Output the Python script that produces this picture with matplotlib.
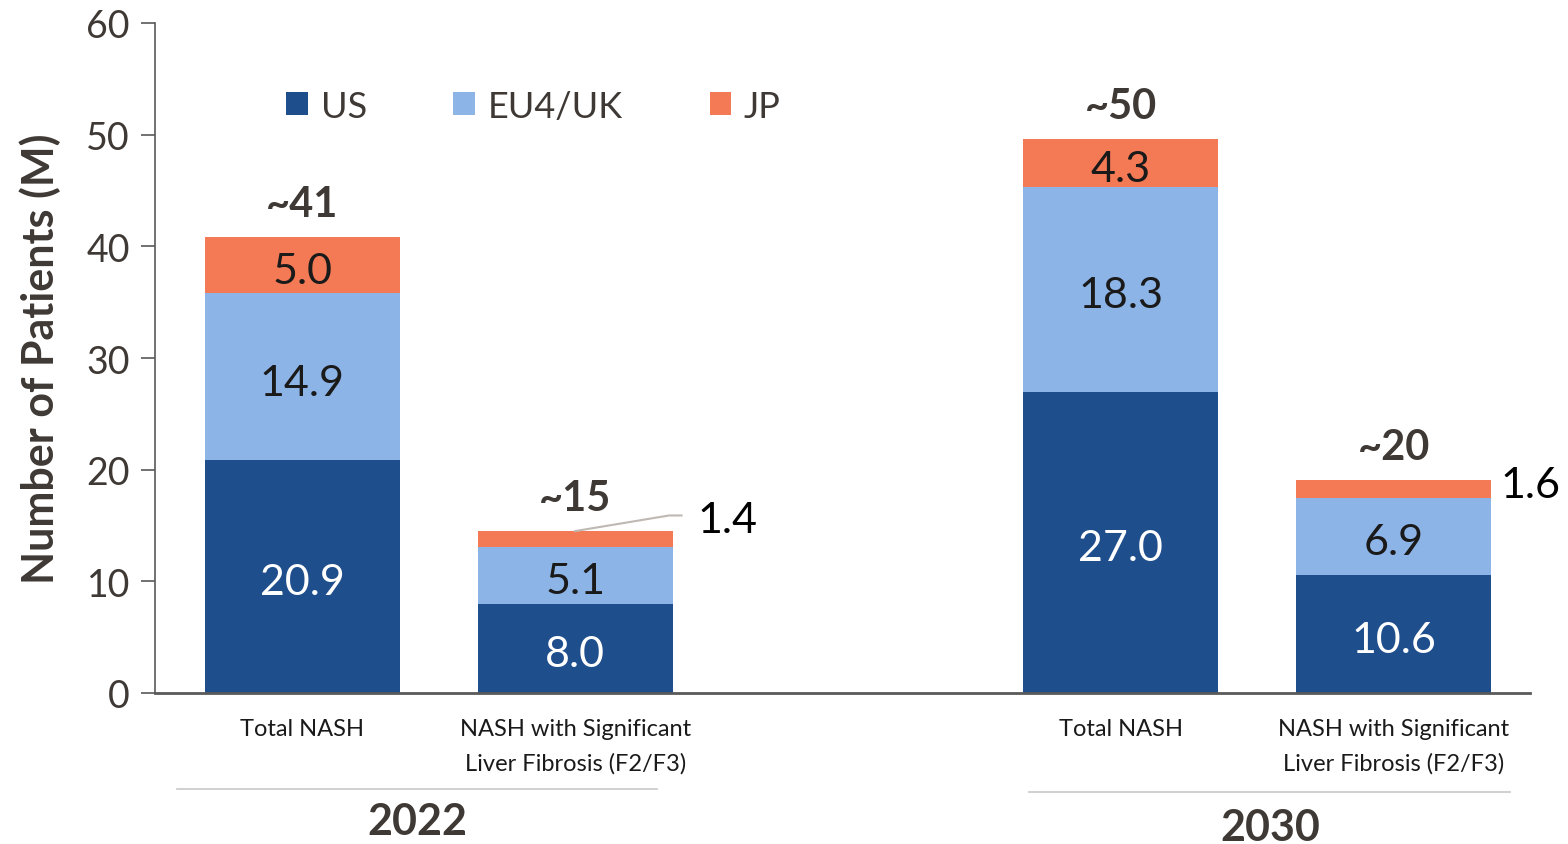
import numpy as np
import matplotlib.pyplot as plt

plt.rcParams['font.family'] = ['Lato', 'DejaVu Sans']

# patients (millions) by region for each bar
categories = ['Total NASH', 'NASH with Significant\nLiver Fibrosis (F2/F3)',
              'Total NASH', 'NASH with Significant\nLiver Fibrosis (F2/F3)']
positions = [0, 1, 3, 4]
us = [20.9, 8.0, 27.0, 10.6]
eu = [14.9, 5.1, 18.3, 6.9]
jp = [5.0, 1.4, 4.3, 1.6]
totals = ['~41', '~15', '~50', '~20']
years = ['2022', '2030']

c_us = '#1F4E8C'
c_eu = '#8DB4E6'
c_jp = '#F47A56'
dark = '#3F3935'

fig = plt.figure(figsize=(15.68, 8.45), dpi=100)
ax = fig.add_axes([155 / 1568, 1 - 694 / 845, (1530 - 155) / 1568, 670 / 845])

width = 0.714
us_a, eu_a, jp_a = np.array(us), np.array(eu), np.array(jp)
ax.bar(positions, us_a, width, color=c_us, label='US')
ax.bar(positions, eu_a, width, bottom=us_a, color=c_eu, label='EU4/UK')
ax.bar(positions, jp_a, width, bottom=us_a + eu_a, color=c_jp, label='JP')

# segment labels, nudged a little below the segment middle
dy = -0.55
for i, x in enumerate(positions):
    ax.text(x, us[i] / 2 + dy, f'{us[i]:.1f}', ha='center', va='center', fontsize=31, color='white')
    ax.text(x, us[i] + eu[i] / 2 + dy, f'{eu[i]:.1f}', ha='center', va='center', fontsize=31,
            color='#1a1a1a')
    top = us[i] + eu[i] + jp[i]
    if jp[i] >= 3:
        ax.text(x, us[i] + eu[i] + jp[i] / 2 + dy, f'{jp[i]:.1f}', ha='center', va='center',
                fontsize=31, color='#1a1a1a')
    ax.text(x, top + 2.95, totals[i], ha='center', va='center', fontsize=30,
            fontweight='bold', color=dark)

# small JP segments labelled outside the bars
top1 = us[1] + eu[1] + jp[1]
ax.plot([positions[1], positions[1] + 0.345, positions[1] + 0.39], [top1, top1 + 1.4, top1 + 1.4],
        color='#BFB8B3', lw=1.5, clip_on=False)
ax.text(positions[1] + 0.45, top1 + 1.0, f'{jp[1]:.1f}', ha='left', va='center', fontsize=31, color='black')
top3 = us[3] + eu[3] + jp[3]
ax.text(positions[3] + 0.39, top3 - 0.45, f'{jp[3]:.1f}', ha='left', va='center', fontsize=31,
        color='black', clip_on=False)

ax.set_xlim(-0.54, 4.5)
ax.set_ylim(0, 60)
ax.set_yticks(range(0, 61, 10))
ax.set_xticks(positions)
ax.set_xticklabels(categories, fontsize=17, color='#1a1a1a', va='top', linespacing=1.75)
ax.tick_params(axis='x', length=0, pad=18)
ax.tick_params(axis='y', labelsize=27, labelcolor=dark, length=10, width=1.2, color='#595959', pad=8)
ax.set_ylabel('Number of Patients (M)', fontsize=31, fontweight='bold', color=dark, labelpad=18)

for s in ['top', 'right']:
    ax.spines[s].set_visible(False)
ax.spines['left'].set_color('#595959')
ax.spines['left'].set_linewidth(1.2)
ax.spines['bottom'].set_color('#595959')
ax.spines['bottom'].set_linewidth(2)

# year group separators and labels
trans = ax.get_xaxis_transform()
ax.plot([-0.46, 1.30], [-0.143, -0.143], transform=trans, color='#C8C8C8', lw=1.2, clip_on=False)
ax.plot([2.665, 4.427], [-0.148, -0.148], transform=trans, color='#C8C8C8', lw=1.2, clip_on=False)
ax.text(0.423, -0.191, years[0], transform=trans, ha='center', va='center', fontsize=31,
        fontweight='bold', color=dark)
ax.text(3.547, -0.200, years[1], transform=trans, ha='center', va='center', fontsize=31,
        fontweight='bold', color=dark)

ax.legend(loc='center left', bbox_to_anchor=(0.085, 0.876), ncol=3, frameon=False, fontsize=26,
          handlelength=0.6, handleheight=0.6, handletextpad=0.35, columnspacing=2.4,
          labelcolor=dark, borderaxespad=0)

fig.savefig('out.png', dpi=100)
